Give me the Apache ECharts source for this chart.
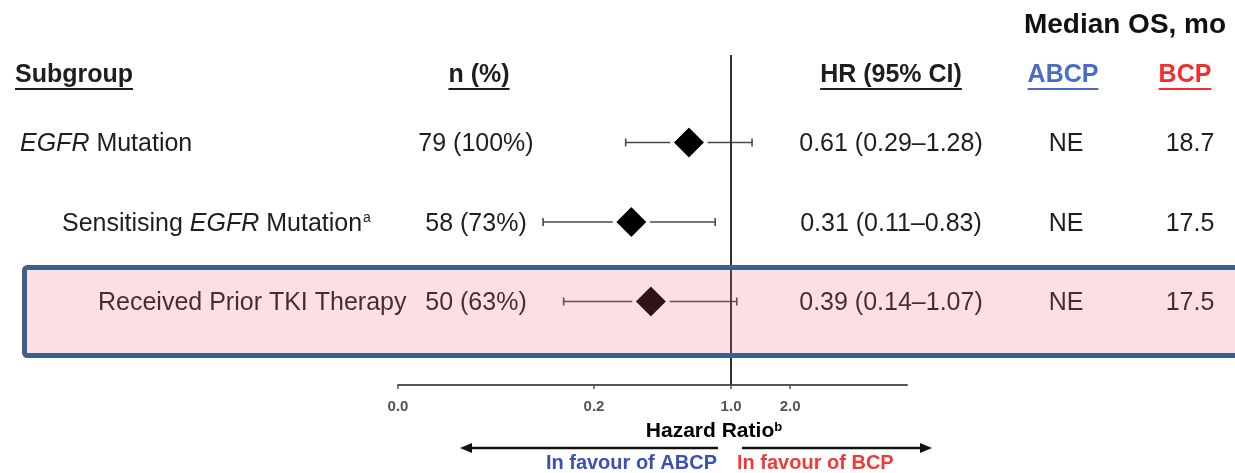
<!DOCTYPE html>
<html>
<head>
<meta charset="utf-8">
<script src="https://cdn.jsdelivr.net/npm/echarts@6/dist/echarts.min.js"></script>
<style>
  html, body { margin: 0; padding: 0; background: #fff; }
  #chart { width: 1235px; height: 473px; }
</style>
</head>
<body>
<div id="chart"></div>
<script>
// Forest plot data: subgroup, n (%), hazard ratio with 95% CI, median OS
const subgroups = ['EGFR Mutation', 'Sensitising EGFR Mutation', 'Received Prior TKI Therapy'];
const footnotes = ['', 'a', ''];
const nText = ['79 (100%)', '58 (73%)', '50 (63%)'];
const hr = [0.61, 0.31, 0.39];
const ciLow = [0.29, 0.11, 0.14];
const ciHigh = [1.28, 0.83, 1.07];
const osABCP = ['NE', 'NE', 'NE'];
const osBCP = ['18.7', '17.5', '17.5'];
const tickValues = [0.02, 0.2, 1, 2];
const tickLabels = ['0.0', '0.2', '1.0', '2.0'];

const FONT = '"Liberation Sans", Arial, Helvetica, sans-serif';
const TEXT = '#1e1e1e';
const BLUE = '#4a6cc8';
const RED = '#f42c2c';
const ROW_SIZE = 25;

const chart = echarts.init(document.getElementById('chart'));

// text measuring for underlines
const measureCtx = document.createElement('canvas').getContext('2d');
function textWidth(str, font) {
  measureCtx.font = font;
  return measureCtx.measureText(str).width;
}

function richSubgroup(name, note) {
  let s = name.replace('EGFR', '{i|EGFR}');
  s = s.replace(/(^|\})([^{]+)$/, '$1{n|$2}');
  s = s.replace(/^([^{]+)\{/, '{n|$1}{');
  if (note) s += '{sup|' + note + '}';
  return s;
}

const rowRich = {
  n: { fontSize: ROW_SIZE, fontFamily: FONT, color: TEXT },
  i: { fontSize: ROW_SIZE, fontFamily: FONT, fontStyle: 'italic', color: TEXT },
  sup: { fontSize: 14, fontFamily: FONT, color: TEXT, verticalAlign: 'top', padding: [0, 0, 0, 1] }
};

const indentX = [20, 62, 98];

function tickLabelFor(v) {
  for (let k = 0; k < tickValues.length; k++) {
    if (Math.abs(Math.log10(v) - Math.log10(tickValues[k])) < 1e-6) return tickLabels[k];
  }
  return '';
}

// Header texts and underlines
const headerY = 75;
const underlineY = 89;
const headFont = 'bold 25px ' + FONT;
const headers = [
  { text: 'Subgroup', x: 15, align: 'left', color: TEXT },
  { text: 'n (%)', x: 479, align: 'center', color: TEXT },
  { text: 'HR (95% CI)', x: 891, align: 'center', color: TEXT },
  { text: 'ABCP', x: 1063, align: 'center', color: BLUE },
  { text: 'BCP', x: 1185, align: 'center', color: RED }
];
const graphics = [];
headers.forEach(h => {
  const w = textWidth(h.text, headFont);
  const x0 = h.align === 'left' ? h.x : h.x - w / 2;
  graphics.push({
    type: 'text', x: h.x, y: headerY, z: 50,
    style: { text: h.text, fill: h.color, fontSize: 25, fontWeight: 'bold', fontFamily: FONT, align: h.align, verticalAlign: 'middle' }
  });
  graphics.push({
    type: 'line', z: 50,
    shape: { x1: x0, y1: underlineY, x2: x0 + w, y2: underlineY },
    style: { stroke: h.color, lineWidth: 2 }
  });
});
graphics.push({
  type: 'text', x: 1125, y: 25, z: 50,
  style: { text: 'Median OS, mo', fill: '#111', fontSize: 28, fontWeight: 'bold', fontFamily: FONT, align: 'center', verticalAlign: 'middle' }
});

// Axis title and direction arrows
graphics.push({
  type: 'text', x: 714, y: 431, z: 50,
  style: {
    text: '{t|Hazard Ratio}{s|b}', align: 'center', verticalAlign: 'middle',
    rich: {
      t: { fontSize: 21, fontWeight: 'bold', fontFamily: FONT, color: '#111' },
      s: { fontSize: 13, fontWeight: 'bold', fontFamily: FONT, color: '#111', verticalAlign: 'top' }
    }
  }
});
const arrowY = 448;
graphics.push({ type: 'line', z: 50, shape: { x1: 718, y1: arrowY, x2: 468, y2: arrowY }, style: { stroke: '#111', lineWidth: 2.5 } });
graphics.push({ type: 'polygon', z: 50, shape: { points: [[460, arrowY], [472, arrowY - 5], [472, arrowY + 5]] }, style: { fill: '#111' } });
graphics.push({ type: 'line', z: 50, shape: { x1: 742, y1: arrowY, x2: 924, y2: arrowY }, style: { stroke: '#111', lineWidth: 2.5 } });
graphics.push({ type: 'polygon', z: 50, shape: { points: [[932, arrowY], [920, arrowY - 5], [920, arrowY + 5]] }, style: { fill: '#111' } });
graphics.push({
  type: 'text', x: 717, y: 463, z: 50,
  style: { text: 'In favour of ABCP', fill: '#3a50b4', fontSize: 20, fontWeight: 'bold', fontFamily: FONT, align: 'right', verticalAlign: 'middle' }
});
graphics.push({
  type: 'text', x: 737, y: 463, z: 50,
  style: { text: 'In favour of BCP', fill: '#ef3a3a', fontSize: 20, fontWeight: 'bold', fontFamily: FONT, align: 'left', verticalAlign: 'middle' }
});

// Highlight box over the prior-TKI row (translucent, drawn on top)
graphics.push({
  type: 'rect', z: 100,
  shape: { x: 24.5, y: 267.5, width: 1225, height: 88, r: 3 },
  style: { fill: 'rgba(238,95,112,0.2)', stroke: '#3d5f8e', lineWidth: 5 }
});

const rows = subgroups.map((_, i) => i);

chart.setOption({
  animation: false,
  backgroundColor: '#fff',
  grid: { left: 398, right: 328, top: 55, bottom: 88, containLabel: false, outerBoundsMode: 'none' },
  xAxis: {
    type: 'log',
    logBase: 10,
    min: 0.02,
    max: 7.9,
    axisLine: { show: true, onZero: false, lineStyle: { color: '#555', width: 2 } },
    axisTick: { show: true, customValues: tickValues, length: 4, lineStyle: { color: '#555', width: 1.5 } },
    axisLabel: {
      customValues: tickValues,
      formatter: v => tickLabelFor(v),
      color: '#555', fontSize: 15, fontWeight: 'bold', fontFamily: FONT, margin: 14
    },
    splitLine: { show: false },
    minorTick: { show: false }
  },
  yAxis: {
    type: 'value',
    inverse: true,
    min: -1.1006,
    max: 3.0503,
    show: false
  },
  graphic: graphics,
  series: [
    {
      name: 'CI',
      type: 'custom',
      clip: false,
      data: rows.map(i => [ciLow[i], ciHigh[i], i]),
      encode: { x: [0, 1], y: 2 },
      renderItem: (params, api) => {
        const lo = api.coord([api.value(0), api.value(2)]);
        const hi = api.coord([api.value(1), api.value(2)]);
        const st = { stroke: '#4a4a4a', lineWidth: 1.6 };
        return {
          type: 'group',
          children: [
            { type: 'line', shape: { x1: lo[0], y1: lo[1], x2: hi[0], y2: hi[1] }, style: st },
            { type: 'line', shape: { x1: lo[0], y1: lo[1] - 4, x2: lo[0], y2: lo[1] + 4 }, style: st },
            { type: 'line', shape: { x1: hi[0], y1: hi[1] - 4, x2: hi[0], y2: hi[1] + 4 }, style: st }
          ]
        };
      },
      z: 3
    },
    {
      name: 'HR',
      type: 'scatter',
      symbol: 'diamond',
      symbolSize: 34,
      data: rows.map(i => [hr[i], i]),
      itemStyle: { color: '#000', borderColor: '#fff', borderWidth: 3, opacity: 1 },
      z: 4,
      markLine: {
        silent: true,
        symbol: 'none',
        label: { show: false },
        lineStyle: { color: '#333', width: 2, type: 'solid' },
        data: [{ xAxis: 1 }]
      }
    },
    {
      name: 'Table',
      type: 'custom',
      clip: false,
      silent: true,
      data: rows.map(i => [1, i]),
      encode: { x: 0, y: 1 },
      renderItem: (params, api) => {
        const i = params.dataIndex;
        const y = api.coord([1, api.value(1)])[1] + 2;
        const plain = (text, x, align) => ({
          type: 'text', x: x, y: y,
          style: { text: text, fill: TEXT, fontSize: ROW_SIZE, fontFamily: FONT, align: align, verticalAlign: 'middle' }
        });
        const hrText = hr[i].toFixed(2) + ' (' + ciLow[i].toFixed(2) + '\u2013' + ciHigh[i].toFixed(2) + ')';
        return {
          type: 'group',
          children: [
            {
              type: 'text', x: indentX[i], y: y,
              style: { text: richSubgroup(subgroups[i], footnotes[i]), rich: rowRich, align: 'left', verticalAlign: 'middle', fontSize: ROW_SIZE, fontFamily: FONT, fill: TEXT }
            },
            plain(nText[i], 476, 'center'),
            plain(hrText, 891, 'center'),
            plain(osABCP[i], 1066, 'center'),
            plain(osBCP[i], 1190, 'center')
          ]
        };
      },
      z: 2
    }
  ]
});
</script>
</body>
</html>
